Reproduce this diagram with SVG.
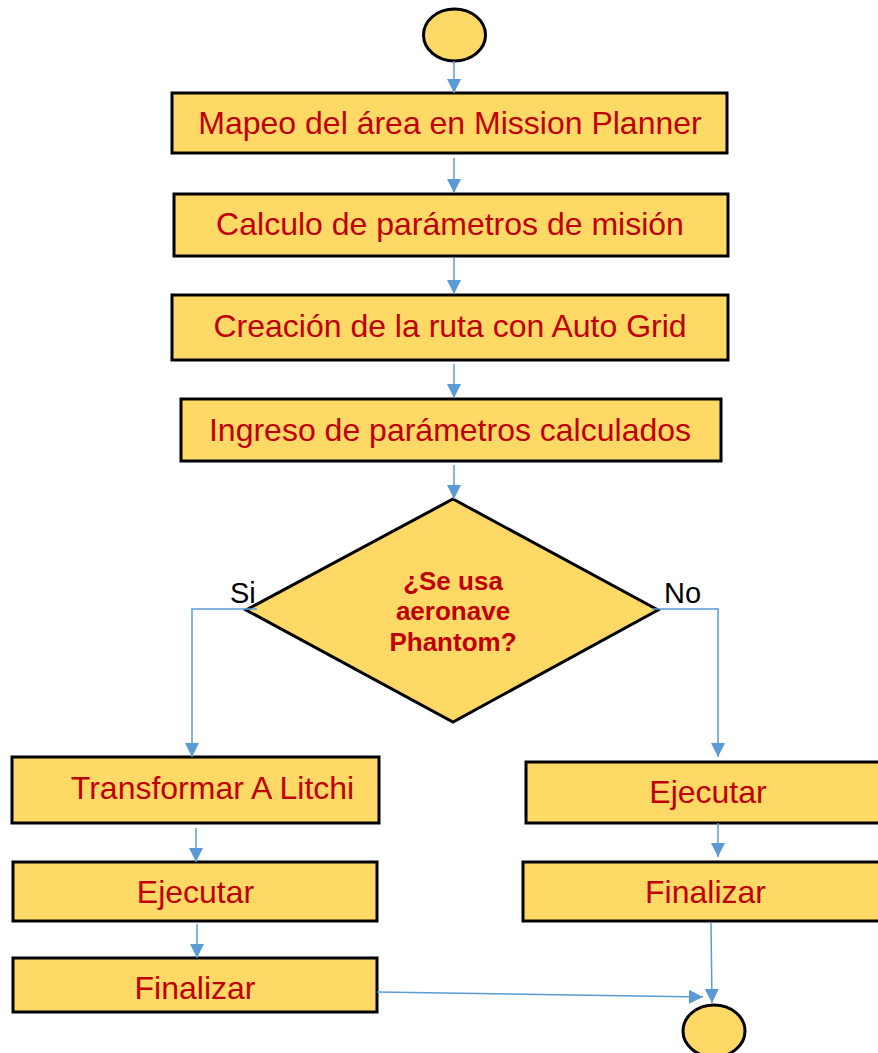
<svg xmlns="http://www.w3.org/2000/svg" width="878" height="1053" viewBox="0 0 878 1053">
  <defs>
    <style>
      .box { fill: #FFD966; stroke: #000; stroke-width: 3; }
      .lbl { font-family: "Liberation Sans", Arial, sans-serif; font-size: 32px; fill: #C00000; text-anchor: middle; }
      .q { font-family: "Liberation Sans", Arial, sans-serif; font-size: 26px; font-weight: bold; fill: #C00000; text-anchor: middle; }
      .branch { font-family: "Liberation Sans", Arial, sans-serif; font-size: 29px; fill: #000; }
      .edge { fill: none; stroke: #5B9BD5; stroke-width: 1.5; marker-end: url(#arrow); }
    </style>
    <marker id="arrow" markerUnits="userSpaceOnUse" markerWidth="14" markerHeight="14" refX="14" refY="7" orient="auto" viewBox="0 0 14 14">
      <path d="M0,0 L14,7 L0,14 Z" fill="#5B9BD5"/>
    </marker>
  </defs>

  <rect width="878" height="1053" fill="#fff"/>

  <g id="start">
    <ellipse class="box" cx="454.5" cy="35" rx="31" ry="26"/>
  </g>

  <g id="mapeo">
    <rect class="box" x="172" y="93" width="555" height="60"/>
    <text class="lbl" x="450" y="134">Mapeo del área en Mission Planner</text>
  </g>

  <g id="calculo">
    <rect class="box" x="174" y="194" width="554" height="62"/>
    <text class="lbl" x="450" y="235">Calculo de parámetros de misión</text>
  </g>

  <g id="creacion">
    <rect class="box" x="172" y="295" width="556" height="65"/>
    <text class="lbl" x="450" y="337">Creación de la ruta con Auto Grid</text>
  </g>

  <g id="ingreso">
    <rect class="box" x="181" y="399" width="540" height="62"/>
    <text class="lbl" x="450" y="441">Ingreso de parámetros calculados</text>
  </g>

  <g id="decision">
    <polygon class="box" points="453,499 658,610 453,722 246,610"/>
    <text class="q" x="453" y="590">¿Se usa</text>
    <text class="q" x="453" y="620">aeronave</text>
    <text class="q" x="453" y="651">Phantom?</text>
  </g>

  <g id="branch-labels">
    <text class="branch" x="230" y="603">Si</text>
    <text class="branch" x="664" y="603">No</text>
  </g>

  <g id="transformar">
    <rect class="box" x="12" y="757" width="367" height="66"/>
    <text class="lbl" x="212.5" y="799">Transformar A Litchi</text>
  </g>

  <g id="ejecutar-si">
    <rect class="box" x="13" y="862" width="364" height="59"/>
    <text class="lbl" x="195.5" y="903">Ejecutar</text>
  </g>

  <g id="finalizar-si">
    <rect class="box" x="13" y="958" width="364" height="54"/>
    <text class="lbl" x="195" y="999">Finalizar</text>
  </g>

  <g id="ejecutar-no">
    <rect class="box" x="526" y="762" width="356" height="61"/>
    <text class="lbl" x="708" y="803">Ejecutar</text>
  </g>

  <g id="finalizar-no">
    <rect class="box" x="523" y="862" width="359" height="59"/>
    <text class="lbl" x="705.5" y="903">Finalizar</text>
  </g>

  <g id="end">
    <ellipse class="box" cx="714" cy="1031" rx="31" ry="26"/>
  </g>

  <g id="connectors">
    <path class="edge" d="M454,61 L454,93"/>
    <path class="edge" d="M454,158 L454,193"/>
    <path class="edge" d="M454,258 L454,294"/>
    <path class="edge" d="M454,364 L454,398"/>
    <path class="edge" d="M454,465 L454,499"/>
    <path class="edge" d="M257,609 L192,609 L192,757"/>
    <path class="edge" d="M652,609 L718,609 L718,757"/>
    <path class="edge" d="M196,828 L196,862"/>
    <path class="edge" d="M197,924 L197,958"/>
    <path class="edge" d="M718,823 L718,857"/>
    <path class="edge" d="M711,923 L712,1003"/>
    <path class="edge" d="M377,992 L703,997"/>
  </g>
</svg>
